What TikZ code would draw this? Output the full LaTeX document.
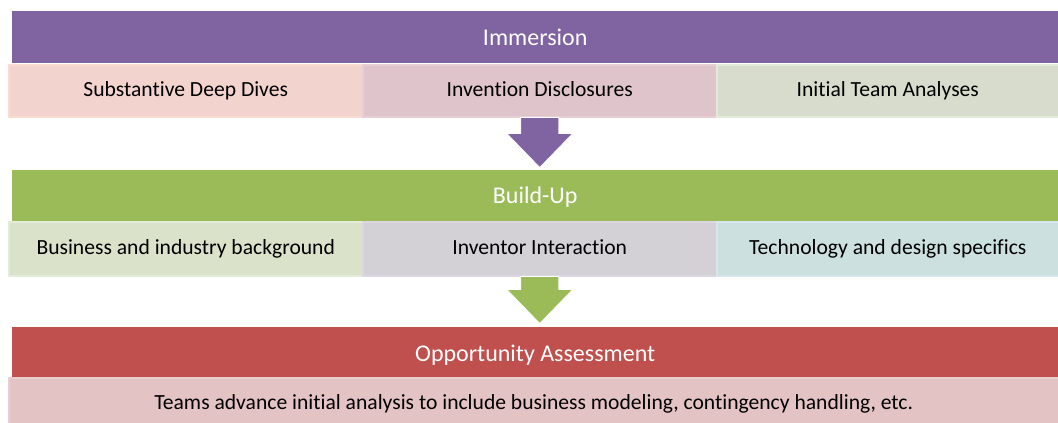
\documentclass[tikz,border=0pt]{standalone}
\usepackage{fontspec}
\setmainfont{Carlito}[Ligatures={NoCommon}]
\definecolor{purp}{HTML}{8064A2}
\definecolor{grn}{HTML}{9BBB59}
\definecolor{rd}{HTML}{C0504D}
\definecolor{aF}{HTML}{F2D3CE}\definecolor{aB}{HTML}{FADBD0}
\definecolor{bF}{HTML}{DFC4CB}\definecolor{bB}{HTML}{E6CFD5}
\definecolor{cF}{HTML}{D7DCCD}\definecolor{cB}{HTML}{E2EAD8}
\definecolor{dF}{HTML}{DAE3C9}\definecolor{dB}{HTML}{E3EBD9}
\definecolor{eF}{HTML}{D3D0D6}\definecolor{eB}{HTML}{DCD6E3}
\definecolor{fF}{HTML}{CCE0E0}\definecolor{fB}{HTML}{D6E6EE}
\definecolor{gF}{HTML}{E4C3C5}\definecolor{gB}{HTML}{EACDCE}
\tikzset{
  hdr/.style={anchor=north west, inner sep=0pt, text=white, font=\fontsize{24}{28}\selectfont, text height=16pt, text depth=0pt, minimum height=52pt},
  sub/.style={anchor=north west, inner sep=0pt, text=black, line width=1.5pt, font=\fontsize{21.6}{26}\selectfont, text height=12pt, text depth=0pt, minimum height=52pt},
  arr/.style={draw=white, line width=0.8pt},
}
\begin{document}
\begin{tikzpicture}[x=1pt,y=-1pt]
\useasboundingbox[fill=white] (0,0) rectangle (1058,423);
% row 1
\node[hdr, fill=purp, minimum width=1046pt] (h1) at (12,11) {Immersion};
\node[sub, fill=aF, draw=aB, minimum width=354pt] (s1) at (8,64) {Substantive Deep Dives};
\node[sub, fill=bF, draw=bB, minimum width=354pt] (s2) at (362,64) {Invention Disclosures};
\node[sub, fill=cF, draw=cB, minimum width=342pt] (s3) at (716,64) {Initial Team Analyses};
% row 2
\node[hdr, fill=grn, minimum width=1046pt, minimum height=51pt] (h2) at (12,170) {Build-Up};
\node[sub, fill=dF, draw=dB, minimum width=354pt, minimum height=54pt] (t1) at (8,221) {Business and industry background};
\node[sub, fill=eF, draw=eB, minimum width=354pt, minimum height=54pt] (t2) at (362,221) {Inventor Interaction};
\node[sub, fill=fF, draw=fB, minimum width=342pt, minimum height=54pt] (t3) at (716,221) {Technology and design specifics};
% row 3
\node[hdr, fill=rd, minimum width=1046pt, minimum height=50pt, text height=18pt] (h3) at (12,327) {Opportunity Assessment};
\node[sub, fill=gF, draw=gB, minimum width=1050pt, minimum height=46pt, text height=18pt] (u1) at (8,377) {Teams advance initial analysis to include business modeling, contingency handling, etc.};
% arrows
\fill[purp, arr] ([xshift=-19pt]s2.south) -- ([xshift=-19pt,yshift=-16pt]s2.south) -- ([xshift=-33pt,yshift=-16pt]s2.south) -- ([yshift=-50pt]s2.south) -- ([xshift=33pt,yshift=-16pt]s2.south) -- ([xshift=19pt,yshift=-16pt]s2.south) -- ([xshift=19pt]s2.south) -- cycle;
\fill[grn, arr] ([xshift=-19pt]t2.south) -- ([xshift=-19pt,yshift=-13pt]t2.south) -- ([xshift=-33pt,yshift=-13pt]t2.south) -- ([yshift=-47pt]t2.south) -- ([xshift=33pt,yshift=-13pt]t2.south) -- ([xshift=19pt,yshift=-13pt]t2.south) -- ([xshift=19pt]t2.south) -- cycle;
\end{tikzpicture}
\end{document}
